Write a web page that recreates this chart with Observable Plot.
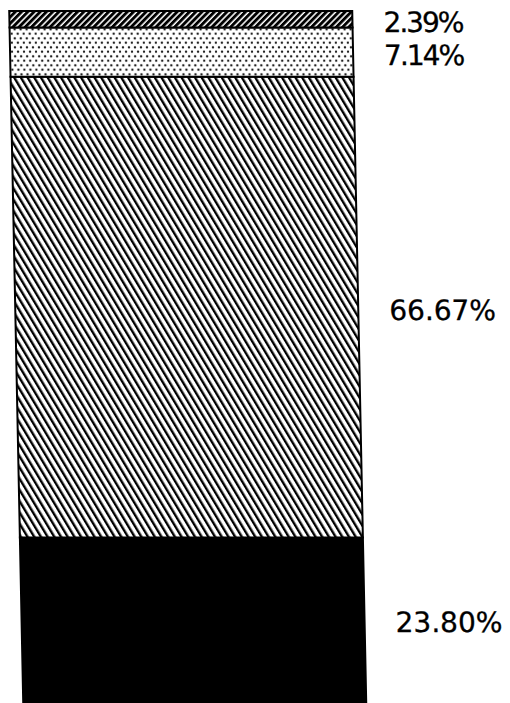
<!DOCTYPE html>
<html>
<head>
<meta charset="utf-8">
<script src="https://cdn.jsdelivr.net/npm/d3@7"></script>
<script src="https://cdn.jsdelivr.net/npm/@observablehq/plot@0.6"></script>
<style>
  html, body { margin: 0; padding: 0; background: #fff; }
  #chart svg { display: block; }
</style>
</head>
<body>
<div id="chart"></div>
<script>
// Segments listed bottom to top
const segments = ["d", "c", "b", "a"];
const values = [23.80, 66.67, 7.14, 2.39];
const labels = ["23.80%", "66.67%", "7.14%", "2.39%"];
const fills = ["black", "url(#hatch)", "url(#dots)", "url(#hatchDense)"];

const data = segments.map((s, i) => ({segment: s, value: values[i], label: labels[i], group: "bar"}));

const chart = Plot.plot({
  width: 510,
  height: 703,
  marginTop: 11,
  marginBottom: 1,
  marginLeft: 9,
  marginRight: 158,
  x: {axis: null, domain: ["bar"], padding: 0},
  y: {axis: null, domain: [0, 100]},
  color: {domain: segments, range: fills},
  marks: [
    Plot.barY(data, {x: "group", y: "value", fill: "segment", stroke: "black", strokeWidth: 2}),
    Plot.text(data, Plot.stackY({
      x: "group", y: "value", text: "label",
      textAnchor: "start", dx: 202, dy: 3,
      fontSize: 28, fontFamily: "DejaVu Sans", fill: "black",
      stroke: "black", strokeWidth: 0.3
    }))
  ]
});

// Patterns
const svg = d3.select(chart);
const defs = svg.insert("defs", ":first-child");

const pd = defs.append("pattern")
  .attr("id", "hatchDense").attr("patternUnits", "userSpaceOnUse")
  .attr("width", 4.4).attr("height", 10).attr("patternTransform", "rotate(45)");
pd.append("rect").attr("width", 4.4).attr("height", 10).attr("fill", "white");
pd.append("rect").attr("width", 2.9).attr("height", 10).attr("fill", "black");

const ph = defs.append("pattern")
  .attr("id", "hatch").attr("patternUnits", "userSpaceOnUse")
  .attr("width", 5.8).attr("height", 10).attr("patternTransform", "rotate(-30)");
ph.append("rect").attr("width", 5.8).attr("height", 10).attr("fill", "white");
ph.append("rect").attr("width", 2.4).attr("height", 10).attr("fill", "black");

const pdots = defs.append("pattern")
  .attr("id", "dots").attr("patternUnits", "userSpaceOnUse")
  .attr("width", 12).attr("height", 9);
pdots.append("rect").attr("width", 12).attr("height", 9).attr("fill", "white");
[[2, 2.2], [8, 2.2], [5, 6.7], [11, 6.7]].forEach(([cx, cy]) =>
  pdots.append("circle").attr("cx", cx).attr("cy", cy).attr("r", 1.1).attr("fill", "black"));

// Slightly tighter lettering for the labels of the two thin top segments
svg.selectAll("text").each(function() {
  const t = d3.select(this);
  const v = parseFloat(t.text());
  if (v < 10) t.attr("letter-spacing", -2);
});

// The scanned original is slightly sheared
chart.style.transform = "skewX(1.16deg)";
chart.style.transformOrigin = "0 0";

document.getElementById("chart").appendChild(chart);
</script>
</body>
</html>
